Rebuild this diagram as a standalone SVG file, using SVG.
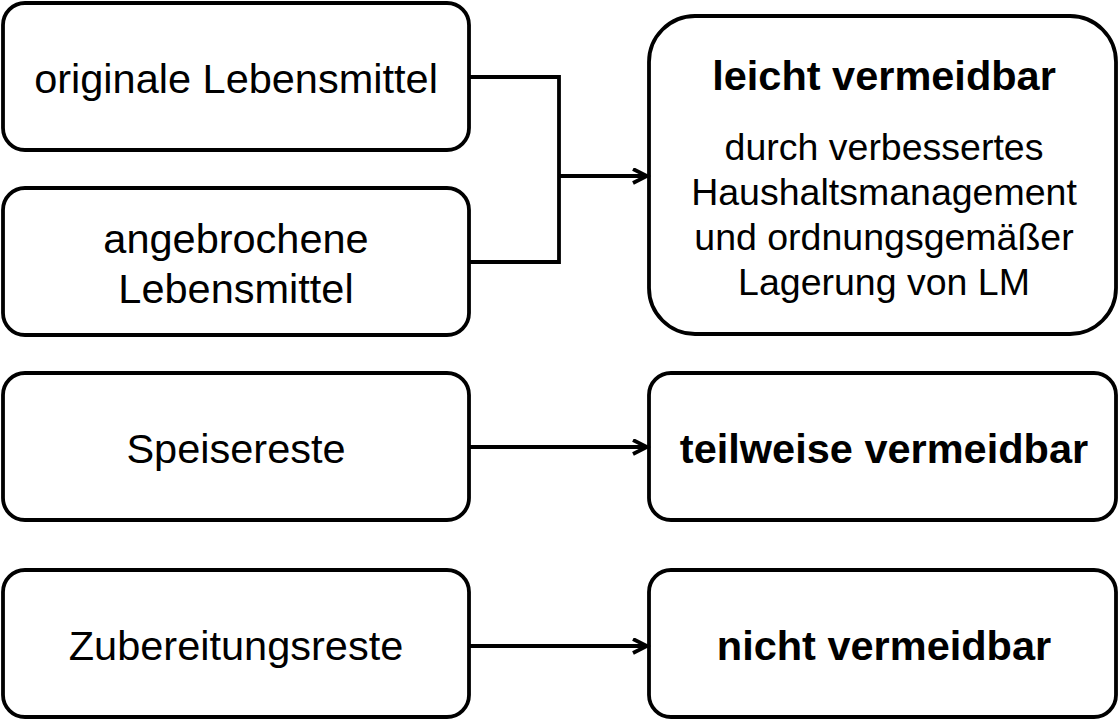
<svg xmlns="http://www.w3.org/2000/svg" width="1120" height="721" viewBox="0 0 1120 721">
<style>
.box{fill:#fff;stroke:#000;stroke-width:3.8}
.t{font-family:"Liberation Sans",Arial,sans-serif;font-size:41.5px;text-anchor:middle;fill:#000}
.s{font-size:37.5px}
.b{font-weight:bold}
.c{fill:none;stroke:#000;stroke-width:3.8}
</style>
<defs>
<marker id="ah" markerWidth="20" markerHeight="20" refX="16" refY="8" orient="auto" markerUnits="userSpaceOnUse">
<path d="M2,1 L16,8 L2,15" fill="none" stroke="#000" stroke-width="3.8" stroke-linejoin="miter"/>
</marker>
</defs>
<rect width="1120" height="721" fill="#fff"/>
<g id="n1"><rect class="box" x="3" y="3" width="466" height="147" rx="22"/><text class="t" x="236" y="93">originale Lebensmittel</text></g>
<g id="n2"><rect class="box" x="3" y="188" width="466" height="147" rx="22"/><text class="t" x="236" y="253">angebrochene</text><text class="t" x="236" y="303">Lebensmittel</text></g>
<g id="n3"><rect class="box" x="3" y="373" width="466" height="147" rx="22"/><text class="t" x="236" y="463">Speisereste</text></g>
<g id="n4"><rect class="box" x="3" y="570" width="466" height="147" rx="22"/><text class="t" x="236" y="660">Zubereitungsreste</text></g>
<g id="r1"><rect class="box" x="649" y="16" width="467" height="318" rx="46"/><text class="t b" x="884" y="90">leicht vermeidbar</text><text class="t s" x="884" y="160">durch verbessertes</text><text class="t s" x="884" y="205">Haushaltsmanagement</text><text class="t s" x="884" y="250">und ordnungsgemäßer</text><text class="t s" x="884" y="295">Lagerung von LM</text></g>
<g id="r2"><rect class="box" x="649" y="373" width="467" height="147" rx="22"/><text class="t b" x="884" y="463">teilweise vermeidbar</text></g>
<g id="r3"><rect class="box" x="649" y="570" width="467" height="147" rx="22"/><text class="t b" x="884" y="660">nicht vermeidbar</text></g>
<g id="connectors">
<path class="c" d="M469,77 H559 V262 H469"/>
<path class="c" d="M559,176 H647" marker-end="url(#ah)"/>
<path class="c" d="M469,447 H647" marker-end="url(#ah)"/>
<path class="c" d="M469,646 H647" marker-end="url(#ah)"/>
</g>
</svg>
